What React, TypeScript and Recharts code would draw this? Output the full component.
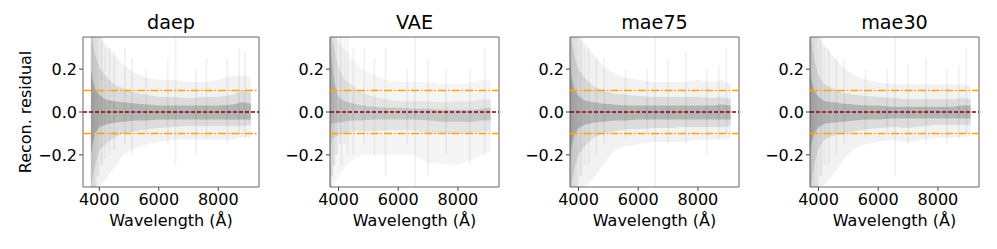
import React from 'react';
import { Area, ComposedChart, ReferenceArea, ReferenceLine, XAxis, YAxis } from 'recharts';

const FONT = '"DejaVu Sans", sans-serif';

// wavelength grid (Å) shared by all panels
const wavelength = [3720, 3760, 3850, 4000, 4200, 4500, 4800, 5200, 5600, 6000, 6500, 7000, 7500, 8000, 8500, 8800, 9100];
const xTicks = [4000, 6000, 8000];
const yTicks = [-0.2, 0, 0.2];

// residual envelopes (outer / mid / inner bands)
const daepOuterHi = [0.35, 0.35, 0.35, 0.35, 0.32, 0.27, 0.22, 0.18, 0.16, 0.15, 0.15, 0.14, 0.14, 0.15, 0.17, 0.17, 0.16];
const daepOuterLo = [-0.35, -0.35, -0.35, -0.35, -0.32, -0.26, -0.2, -0.17, -0.15, -0.14, -0.13, -0.13, -0.13, -0.13, -0.13, -0.12, -0.12];
const daepMidHi = [0.35, 0.33, 0.27, 0.21, 0.17, 0.13, 0.11, 0.09, 0.08, 0.07, 0.07, 0.065, 0.07, 0.07, 0.08, 0.1, 0.09];
const daepMidLo = [-0.35, -0.32, -0.25, -0.18, -0.15, -0.12, -0.1, -0.09, -0.08, -0.075, -0.07, -0.065, -0.065, -0.065, -0.065, -0.065, -0.06];
const daepInnerHi = [0.2, 0.16, 0.11, 0.08, 0.06, 0.05, 0.045, 0.04, 0.035, 0.03, 0.03, 0.03, 0.03, 0.03, 0.035, 0.045, 0.04];
const daepInnerLo = [-0.2, -0.16, -0.1, -0.07, -0.06, -0.05, -0.045, -0.04, -0.04, -0.035, -0.035, -0.035, -0.035, -0.035, -0.035, -0.035, -0.035];

const vaeOuterHi = [0.35, 0.35, 0.35, 0.33, 0.29, 0.24, 0.2, 0.17, 0.15, 0.14, 0.14, 0.14, 0.13, 0.13, 0.14, 0.15, 0.15];
const vaeOuterLo = [-0.35, -0.35, -0.34, -0.3, -0.26, -0.22, -0.2, -0.2, -0.2, -0.2, -0.2, -0.24, -0.24, -0.25, -0.22, -0.2, -0.18];
const vaeMidHi = [0.35, 0.35, 0.3, 0.21, 0.15, 0.12, 0.09, 0.07, 0.06, 0.05, 0.05, 0.05, 0.045, 0.05, 0.05, 0.06, 0.06];
const vaeMidLo = [-0.16, -0.14, -0.12, -0.11, -0.1, -0.09, -0.09, -0.09, -0.085, -0.085, -0.085, -0.1, -0.1, -0.1, -0.1, -0.09, -0.09];
const vaeInnerHi = [0.35, 0.26, 0.14, 0.07, 0.05, 0.04, 0.03, 0.025, 0.02, 0.02, 0.015, 0.015, 0.01, 0.01, 0.01, 0.015, 0.02];
const vaeInnerLo = [-0.06, -0.055, -0.05, -0.05, -0.045, -0.04, -0.04, -0.035, -0.035, -0.035, -0.035, -0.04, -0.045, -0.045, -0.045, -0.04, -0.04];

const mae75OuterHi = [0.35, 0.35, 0.35, 0.35, 0.32, 0.27, 0.22, 0.18, 0.16, 0.15, 0.14, 0.14, 0.14, 0.15, 0.14, 0.15, 0.13];
const mae75OuterLo = [-0.35, -0.35, -0.35, -0.35, -0.35, -0.31, -0.25, -0.18, -0.16, -0.15, -0.14, -0.14, -0.14, -0.13, -0.13, -0.13, -0.12];
const mae75MidHi = [0.35, 0.33, 0.27, 0.2, 0.16, 0.12, 0.1, 0.085, 0.08, 0.075, 0.07, 0.07, 0.07, 0.07, 0.065, 0.07, 0.06];
const mae75MidLo = [-0.35, -0.33, -0.27, -0.2, -0.16, -0.12, -0.1, -0.09, -0.08, -0.08, -0.075, -0.075, -0.07, -0.07, -0.07, -0.07, -0.065];
const mae75InnerHi = [0.22, 0.17, 0.11, 0.075, 0.055, 0.045, 0.04, 0.035, 0.03, 0.03, 0.03, 0.03, 0.03, 0.03, 0.03, 0.035, 0.03];
const mae75InnerLo = [-0.22, -0.17, -0.11, -0.075, -0.06, -0.05, -0.045, -0.04, -0.04, -0.035, -0.035, -0.035, -0.035, -0.035, -0.035, -0.035, -0.035];

const mae30OuterHi = [0.35, 0.35, 0.35, 0.35, 0.31, 0.26, 0.21, 0.17, 0.15, 0.14, 0.13, 0.13, 0.13, 0.13, 0.13, 0.13, 0.12];
const mae30OuterLo = [-0.35, -0.35, -0.35, -0.35, -0.34, -0.29, -0.23, -0.17, -0.15, -0.14, -0.13, -0.14, -0.13, -0.12, -0.12, -0.12, -0.11];
const mae30MidHi = [0.35, 0.33, 0.25, 0.17, 0.13, 0.11, 0.09, 0.08, 0.075, 0.07, 0.065, 0.06, 0.06, 0.06, 0.06, 0.065, 0.06];
const mae30MidLo = [-0.35, -0.33, -0.25, -0.17, -0.13, -0.11, -0.1, -0.09, -0.08, -0.075, -0.07, -0.075, -0.065, -0.06, -0.06, -0.06, -0.06];
const mae30InnerHi = [0.2, 0.15, 0.1, 0.07, 0.05, 0.045, 0.04, 0.035, 0.03, 0.03, 0.025, 0.025, 0.025, 0.025, 0.025, 0.03, 0.03];
const mae30InnerLo = [-0.2, -0.15, -0.1, -0.07, -0.055, -0.05, -0.045, -0.04, -0.035, -0.035, -0.03, -0.03, -0.03, -0.03, -0.03, -0.03, -0.03];

// vertical streaks (sky lines / features)
const daepSpikeW = [3730, 3750, 3780, 3810, 3840, 3880, 3930, 3970, 4050, 4100, 4200, 4340, 4500, 4860, 5100, 5577, 6300, 6563, 7250, 7600, 8300, 8700, 8900];
const daepSpikeLo = [-0.35, -0.35, -0.35, -0.35, -0.35, -0.35, -0.3, -0.3, -0.25, -0.25, -0.22, -0.2, -0.18, -0.15, -0.2, -0.1, -0.15, -0.25, -0.2, -0.12, -0.15, -0.1, -0.12];
const daepSpikeHi = [0.35, 0.35, 0.35, 0.35, 0.35, 0.35, 0.35, 0.35, 0.35, 0.35, 0.3, 0.3, 0.28, 0.3, 0.25, 0.2, 0.25, 0.35, 0.2, 0.25, 0.25, 0.3, 0.28];

const vaeSpikeW = [3725, 3745, 3770, 3800, 3830, 3860, 3900, 3950, 4050, 4100, 4200, 4300, 4500, 4860, 5200, 5577, 6300, 6563, 7000, 7600, 8400, 8900];
const vaeSpikeLo = [-0.35, -0.35, -0.3, -0.3, -0.25, -0.25, -0.2, -0.2, -0.15, -0.25, -0.15, -0.2, -0.2, -0.15, -0.2, -0.3, -0.15, -0.35, -0.3, -0.2, -0.25, -0.2];
const vaeSpikeHi = [0.35, 0.35, 0.35, 0.35, 0.35, 0.35, 0.35, 0.35, 0.35, 0.35, 0.35, 0.35, 0.3, 0.3, 0.25, 0.3, 0.2, 0.35, 0.25, 0.2, 0.2, 0.3];

const mae75SpikeW = [3730, 3750, 3780, 3810, 3840, 3880, 3930, 3970, 4050, 4100, 4200, 4340, 4600, 4860, 5577, 6300, 6563, 7000, 7600, 8300, 8700, 8950];
const mae75SpikeLo = [-0.35, -0.35, -0.35, -0.35, -0.35, -0.35, -0.35, -0.35, -0.3, -0.3, -0.25, -0.25, -0.2, -0.15, -0.12, -0.1, -0.35, -0.15, -0.15, -0.2, -0.12, -0.1];
const mae75SpikeHi = [0.35, 0.35, 0.35, 0.35, 0.35, 0.35, 0.35, 0.35, 0.35, 0.35, 0.3, 0.3, 0.25, 0.25, 0.2, 0.2, 0.35, 0.25, 0.28, 0.2, 0.22, 0.3];

const mae30SpikeW = [3730, 3750, 3780, 3810, 3840, 3880, 3930, 3970, 4050, 4100, 4200, 4340, 4600, 4860, 5577, 6300, 6563, 7000, 7600, 8300, 8700, 8950];
const mae30SpikeLo = [-0.35, -0.35, -0.35, -0.35, -0.35, -0.35, -0.35, -0.35, -0.3, -0.3, -0.25, -0.25, -0.2, -0.15, -0.12, -0.1, -0.3, -0.15, -0.15, -0.15, -0.12, -0.1];
const mae30SpikeHi = [0.35, 0.35, 0.35, 0.35, 0.35, 0.35, 0.35, 0.35, 0.35, 0.35, 0.3, 0.3, 0.25, 0.25, 0.2, 0.2, 0.35, 0.22, 0.25, 0.2, 0.22, 0.3];

const panels = [
  {
    title: 'daep', left: 0, axisWidth: 83, width: 262, domain: [3452, 9370], shade: 1,
    outer: [daepOuterLo, daepOuterHi], mid: [daepMidLo, daepMidHi], inner: [daepInnerLo, daepInnerHi],
    spikes: [daepSpikeW, daepSpikeLo, daepSpikeHi],
  },
  {
    title: 'VAE', left: 270, axisWidth: 60, width: 232, domain: [3715, 9375], shade: 0.75,
    outer: [vaeOuterLo, vaeOuterHi], mid: [vaeMidLo, vaeMidHi], inner: [vaeInnerLo, vaeInnerHi],
    spikes: [vaeSpikeW, vaeSpikeLo, vaeSpikeHi],
  },
  {
    title: 'mae75', left: 510, axisWidth: 60, width: 232, domain: [3715, 9375], shade: 1,
    outer: [mae75OuterLo, mae75OuterHi], mid: [mae75MidLo, mae75MidHi], inner: [mae75InnerLo, mae75InnerHi],
    spikes: [mae75SpikeW, mae75SpikeLo, mae75SpikeHi],
  },
  {
    title: 'mae30', left: 750, axisWidth: 60, width: 232, domain: [3715, 9375], shade: 1,
    outer: [mae30OuterLo, mae30OuterHi], mid: [mae30MidLo, mae30MidHi], inner: [mae30InnerLo, mae30InnerHi],
    spikes: [mae30SpikeW, mae30SpikeLo, mae30SpikeHi],
  },
];

const fmtY = (v: number) => (v < 0 ? '\u2212' : '') + Math.abs(v).toFixed(1);

function Panel({ p }: { p: (typeof panels)[number] }) {
  const data = wavelength.map((w, i) => ({
    w,
    outer: [p.outer[0][i], p.outer[1][i]],
    mid: [p.mid[0][i], p.mid[1][i]],
    inner: [p.inner[0][i], p.inner[1][i]],
  }));
  const [sw, slo, shi] = p.spikes;
  const tick = { fill: '#000', fontSize: 16, fontFamily: FONT };

  return (
    <div style={{ position: 'absolute', left: p.left, top: 0 }}>
      <ComposedChart width={p.width} height={249} data={data} margin={{ top: 37, right: 3, bottom: 0, left: 0 }}>
        <XAxis
          dataKey="w"
          type="number"
          domain={p.domain}
          ticks={xTicks}
          interval={0}
          allowDataOverflow
          height={62}
          tick={tick}
          tickSize={4}
          tickMargin={3}
          tickLine={{ stroke: '#444' }}
          axisLine={false}
        />
        <YAxis
          type="number"
          domain={[-0.35, 0.35]}
          ticks={yTicks}
          interval={0}
          allowDataOverflow
          width={p.axisWidth}
          tick={tick}
          tickFormatter={fmtY}
          tickSize={4}
          tickMargin={2}
          tickLine={{ stroke: '#444' }}
          axisLine={false}
        />
        <Area dataKey="outer" type="linear" stroke="none" fill="#000" fillOpacity={0.05 * p.shade} dot={false} activeDot={false} isAnimationActive={false} />
        <Area dataKey="mid" type="linear" stroke="none" fill="#000" fillOpacity={0.09 * p.shade} dot={false} activeDot={false} isAnimationActive={false} />
        <Area dataKey="inner" type="linear" stroke="none" fill="#000" fillOpacity={0.18 * p.shade} dot={false} activeDot={false} isAnimationActive={false} />
        {sw.map((w, i) => (
          <ReferenceLine
            key={`s${i}`}
            segment={[{ x: w, y: slo[i] }, { x: w, y: shi[i] }]}
            stroke="#000"
            strokeOpacity={0.05}
            strokeWidth={2}
            ifOverflow="visible"
          />
        ))}
        <ReferenceLine y={0.1} stroke="#ffa500" strokeWidth={1.5} strokeDasharray="8 2 1.5 2" />
        <ReferenceLine y={-0.1} stroke="#ffa500" strokeWidth={1.5} strokeDasharray="8 2 1.5 2" />
        <ReferenceLine y={0} stroke="#8b0000" strokeWidth={1.5} strokeDasharray="4 2" />
        <ReferenceArea x1={p.domain[0]} x2={p.domain[1]} y1={-0.35} y2={0.35} fill="none" fillOpacity={0} stroke="#666" strokeWidth={1} ifOverflow="visible" />
      </ComposedChart>
    </div>
  );
}

export default function App() {
  return (
    <div style={{ position: 'absolute', left: 0, top: 0, width: 997, height: 249, background: '#fff', fontFamily: FONT }}>
      {panels.map((p) => (
        <Panel key={p.title} p={p} />
      ))}
      <svg width={997} height={249} style={{ position: 'absolute', left: 0, top: 0, pointerEvents: 'none' }}>
        {panels.map((p) => {
          const cx = p.left + p.axisWidth + (p.width - p.axisWidth - 3) / 2;
          return (
            <g key={p.title} fontFamily={FONT} fill="#000" textAnchor="middle">
              <text x={cx} y={29} fontSize={19.2}>{p.title}</text>
              <text x={cx} y={226} fontSize={16}>Wavelength (Å)</text>
            </g>
          );
        })}
        <text x={31} y={112} fontSize={16} fontFamily={FONT} textAnchor="middle" transform="rotate(-90 31 112)">
          Recon. residual
        </text>
      </svg>
    </div>
  );
}
